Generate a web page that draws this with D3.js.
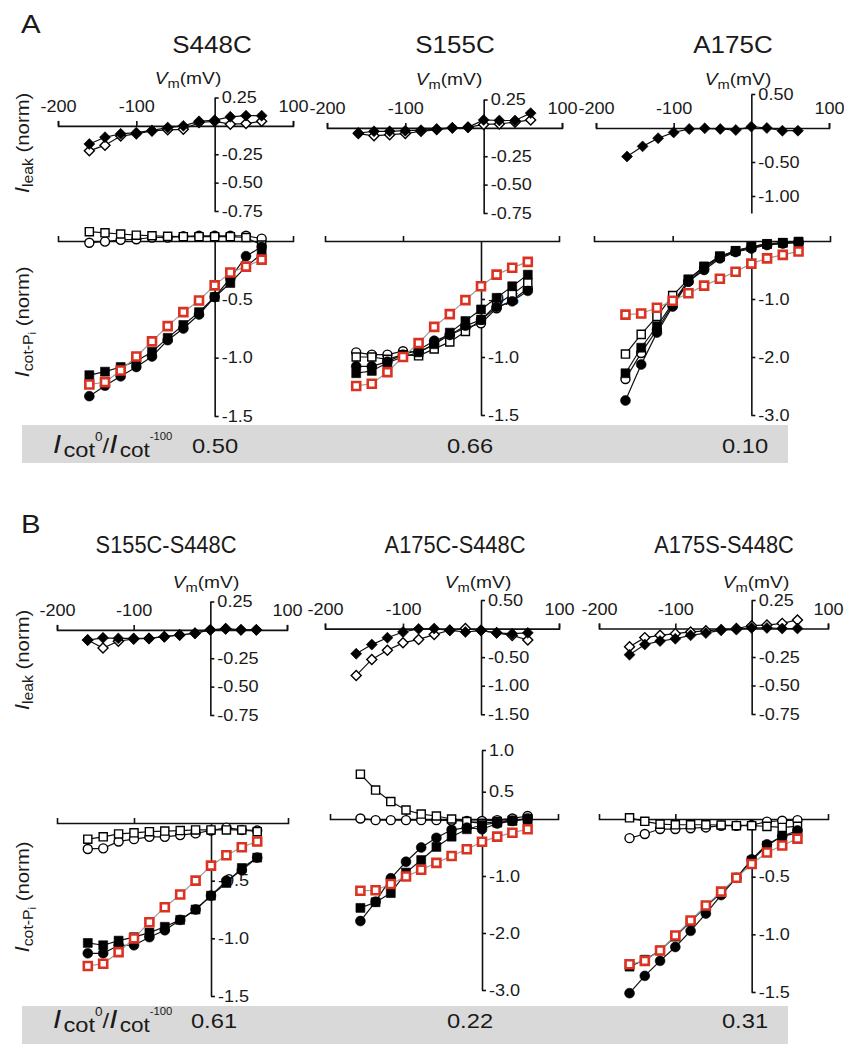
<!DOCTYPE html>
<html><head><meta charset="utf-8">
<script src="https://cdn.jsdelivr.net/npm/d3@7"></script>
<style>
body{margin:0;background:#fff}
svg{display:block}
text{font-family:"Liberation Sans",Arial,Helvetica,sans-serif;fill:#1a1a1a}
</style>
</head><body>
<svg id="c" width="844" height="1044"></svg>
<script>
// ---------------- DATA ----------------
const voltages = [-160,-140,-120,-100,-80,-60,-40,-20,0,20,40,60];
const xTickValues = [-200,-100,100];
const titlesA = ["S448C","S155C","A175C"];
const titlesB = ["S155C-S448C","A175C-S448C","A175S-S448C"];
const ratiosA = ["0.50","0.66","0.10"];
const ratiosB = ["0.61","0.22","0.31"];

// y tick values
const leakTicks_025 = [0.25,-0.25,-0.5,-0.75];
const leakTicks_050a = [0.5,-0.5,-1.0];
const leakTicks_050b = [0.5,-0.5,-1.0,-1.5];
const cotTicks_15 = [-0.5,-1.0,-1.5];
const cotTicks_30 = [-1.0,-2.0,-3.0];
const cotTicks_30p = [1.0,0.5,-1.0,-2.0,-3.0];

// S448C
const S448C_leakFilled = [-0.16,-0.10,-0.07,-0.06,-0.04,-0.015,0.0,0.04,0.05,0.08,0.09,0.09];
const S448C_leakOpen   = [-0.22,-0.17,-0.09,-0.07,-0.045,-0.035,-0.03,0.03,0.04,0.015,0.02,0.04];
const S448C_cotOpenCircle   = [-0.015,-0.005,0.01,0.015,0.03,0.03,0.04,0.045,0.045,0.045,0.045,0.02];
const S448C_cotOpenSquare   = [0.08,0.07,0.06,0.05,0.045,0.04,0.037,0.037,0.037,0.037,0.03,-0.035];
const S448C_cotFilledCircle = [-1.33,-1.24,-1.16,-1.08,-0.99,-0.85,-0.75,-0.63,-0.48,-0.32,-0.13,-0.05];
const S448C_cotFilledSquare = [-1.15,-1.12,-1.08,-1.03,-0.95,-0.83,-0.72,-0.61,-0.48,-0.36,-0.22,-0.11];
const S448C_cotRed          = [-1.23,-1.21,-1.11,-0.99,-0.86,-0.73,-0.61,-0.51,-0.38,-0.27,-0.22,-0.16];

// S155C
const S155C_leakFilled = [-0.045,-0.03,-0.03,-0.025,-0.02,-0.01,0,0.005,0.07,0.065,0.065,0.13];
const S155C_leakOpen   = [-0.05,-0.07,-0.06,-0.05,-0.03,-0.015,0,0.005,0.03,0.035,0.05,0.07];
const S155C_cotOpenCircle   = [-0.96,-0.98,-0.98,-0.95,-0.96,-0.89,-0.81,-0.75,-0.71,-0.58,-0.51,-0.41];
const S155C_cotOpenSquare   = [-1.0,-1.0,-1.02,-0.98,-0.99,-0.93,-0.87,-0.78,-0.68,-0.55,-0.46,-0.36];
const S155C_cotFilledCircle = [-1.08,-1.08,-1.04,-0.98,-0.94,-0.86,-0.81,-0.73,-0.68,-0.57,-0.52,-0.43];
const S155C_cotFilledSquare = [-1.14,-1.12,-1.05,-1.0,-0.96,-0.89,-0.79,-0.69,-0.59,-0.49,-0.39,-0.29];
const S155C_cotRed          = [-1.25,-1.23,-1.13,-1.0,-0.88,-0.74,-0.63,-0.51,-0.39,-0.29,-0.23,-0.18];

// A175C
const A175C_leakFilled = [-0.42,-0.27,-0.15,-0.065,-0.015,-0.005,-0.015,-0.03,0.02,0,-0.04,-0.04];
const A175C_cotOpenCircle   = [-2.38,-1.93,-1.53,-1.1,-0.7,-0.47,-0.28,-0.18,-0.11,-0.06,-0.04,-0.02];
const A175C_cotOpenSquare   = [-1.95,-1.61,-1.3,-0.94,-0.66,-0.44,-0.27,-0.17,-0.1,-0.05,-0.03,-0.02];
const A175C_cotFilledCircle = [-2.75,-2.13,-1.58,-1.13,-0.7,-0.5,-0.3,-0.19,-0.13,-0.07,-0.04,-0.03];
const A175C_cotFilledSquare = [-2.28,-1.84,-1.47,-1.07,-0.67,-0.44,-0.26,-0.17,-0.1,-0.05,-0.03,-0.01];
const A175C_cotRed          = [-1.27,-1.25,-1.15,-1.03,-0.9,-0.77,-0.65,-0.53,-0.39,-0.3,-0.24,-0.18];

// S155C-S448C
const S155C_S448C_leakFilled = [-0.09,-0.07,-0.075,-0.075,-0.075,-0.06,-0.045,-0.03,0,0.01,0,0];
const S155C_S448C_leakOpen   = [-0.09,-0.16,-0.10,-0.08,-0.075,-0.06,-0.045,-0.03,0,0.01,0,0];
const S155C_S448C_cotOpenCircle   = [-0.225,-0.22,-0.16,-0.14,-0.12,-0.12,-0.105,-0.09,-0.065,-0.04,-0.06,-0.065];
const S155C_S448C_cotOpenSquare   = [-0.14,-0.12,-0.095,-0.085,-0.075,-0.07,-0.066,-0.06,-0.06,-0.06,-0.06,-0.075];
const S155C_S448C_cotFilledCircle = [-1.13,-1.13,-1.06,-1.06,-0.99,-0.93,-0.84,-0.75,-0.63,-0.5,-0.41,-0.3];
const S155C_S448C_cotFilledSquare = [-1.04,-1.06,-1.02,-0.99,-0.95,-0.9,-0.84,-0.75,-0.63,-0.52,-0.39,-0.3];
const S155C_S448C_cotRed          = [-1.24,-1.22,-1.12,-1.0,-0.86,-0.73,-0.62,-0.5,-0.37,-0.28,-0.21,-0.16];

// A175C-S448C
const A175C_S448C_leakFilled = [-0.44,-0.28,-0.16,-0.06,-0.005,0,-0.03,-0.06,-0.035,-0.075,-0.09,-0.075];
const A175C_S448C_leakOpen   = [-0.82,-0.54,-0.38,-0.25,-0.19,-0.105,-0.03,0,-0.03,-0.075,-0.12,-0.2];
const A175C_S448C_cotOpenCircle   = [0.01,-0.02,-0.02,-0.02,-0.02,-0.02,-0.03,-0.035,-0.035,-0.02,0.01,0.055];
const A175C_S448C_cotOpenSquare   = [0.71,0.52,0.32,0.165,0.09,0.055,0,-0.045,-0.075,-0.045,-0.02,0];
const A175C_S448C_cotFilledCircle = [-1.79,-1.45,-1.04,-0.75,-0.5,-0.33,-0.19,-0.15,-0.18,-0.08,-0.035,0.01];
const A175C_S448C_cotFilledSquare = [-1.56,-1.46,-1.3,-0.94,-0.72,-0.49,-0.31,-0.18,-0.105,-0.065,-0.035,0];
const A175C_S448C_cotRed          = [-1.26,-1.25,-1.14,-1.01,-0.89,-0.77,-0.65,-0.53,-0.4,-0.31,-0.24,-0.18];

// A175S-S448C
const A175S_S448C_leakFilled = [-0.23,-0.14,-0.11,-0.09,-0.06,-0.04,-0.015,-0.01,0.005,0.005,0,0];
const A175S_S448C_leakOpen   = [-0.16,-0.08,-0.06,-0.045,-0.03,-0.02,-0.01,0,0.025,0.03,0.045,0.075];
const A175S_S448C_cotOpenCircle   = [-0.166,-0.13,-0.087,-0.087,-0.08,-0.073,-0.058,-0.058,-0.052,-0.023,-0.015,-0.01];
const A175S_S448C_cotOpenSquare   = [0.01,-0.02,-0.045,-0.05,-0.05,-0.05,-0.052,-0.058,-0.058,-0.064,-0.073,-0.064];
const A175S_S448C_cotFilledCircle = [-1.51,-1.36,-1.23,-1.11,-0.97,-0.82,-0.66,-0.51,-0.35,-0.22,-0.15,-0.1];
const A175S_S448C_cotFilledSquare = [-1.28,-1.22,-1.14,-1.02,-0.89,-0.76,-0.64,-0.51,-0.36,-0.23,-0.15,-0.12];
const A175S_S448C_cotRed          = [-1.26,-1.23,-1.14,-1.01,-0.88,-0.75,-0.63,-0.51,-0.39,-0.29,-0.23,-0.17];

// ---------------- LAYOUT / DRAWING ----------------
const SX = 1.13;
const RED = "#dc3222";
const svg = d3.select("#c");

function richText(parent, x, y, parts, opts) {
  opts = opts || {};
  const sx = opts.sx || SX;
  const t = parent.append("text")
    .attr("transform", `translate(${x},${y})` + (opts.rotate ? ` rotate(${opts.rotate})` : "") + ` scale(${sx},1)`)
    .attr("text-anchor", opts.anchor || "start");
  parts.forEach(p => {
    const s = t.append("tspan").text(p.t).attr("font-size", p.size);
    if (p.italic) s.attr("font-style", "italic");
    if (p.dy) s.attr("dy", p.dy);
    if (p.dx) s.attr("dx", p.dx);
  });
  return t;
}

function styleAxis(g, fmtSize) {
  g.attr("font-size", null).attr("font-family", null);
  g.select(".domain").attr("stroke", "#111").attr("stroke-width", 1.6);
  g.selectAll(".tick line").attr("stroke", "#111").attr("stroke-width", 1.6);
  g.selectAll(".tick text").attr("font-size", fmtSize).attr("fill", "#1a1a1a");
}

function series(g, xs, ys, vals, kind) {
  const pts = voltages.map((v, i) => [xs(v), ys(vals[i])]);
  const lineColor = kind === "red" ? "#9a9a9a" : "#111";
  g.append("path").attr("d", d3.line()(pts)).attr("fill", "none")
    .attr("stroke", lineColor).attr("stroke-width", 1.2);
  let sym, size, fill, stroke, sw, rot = "";
  if (kind === "fc") { sym = d3.symbolCircle; size = 76; fill = "#000"; stroke = "#000"; sw = 0.6; }
  else if (kind === "oc") { sym = d3.symbolCircle; size = 64; fill = "#fff"; stroke = "#000"; sw = 1.4; }
  else if (kind === "fs") { sym = d3.symbolSquare; size = 80; fill = "#000"; stroke = "#000"; sw = 0.6; }
  else if (kind === "os") { sym = d3.symbolSquare; size = 66; fill = "#fff"; stroke = "#000"; sw = 1.4; }
  else if (kind === "red") { sym = d3.symbolSquare; size = 64; fill = "#fff"; stroke = RED; sw = 2.6; }
  else if (kind === "fd") { sym = d3.symbolSquare; size = 60; fill = "#000"; stroke = "#000"; sw = 0.6; rot = " rotate(45)"; }
  else if (kind === "od") { sym = d3.symbolSquare; size = 50; fill = "#fff"; stroke = "#000"; sw = 1.4; rot = " rotate(45)"; }
  g.selectAll(null).data(pts).enter().append("path")
    .attr("transform", d => `translate(${d[0]},${d[1]})${rot}`)
    .attr("d", d3.symbol().type(sym).size(size))
    .attr("fill", fill).attr("stroke", stroke).attr("stroke-width", sw);
}

const panels = [
  { title: titlesA[0], ratio: ratiosA[0], tsx: SX,
    leak: { filled: S448C_leakFilled, open: S448C_leakOpen, domain: [-0.75, 0.25], ticks: leakTicks_025 },
    cot: { oc: S448C_cotOpenCircle, os: S448C_cotOpenSquare, fc: S448C_cotFilledCircle, fs: S448C_cotFilledSquare, red: S448C_cotRed, domain: [-1.5, 0], ticks: cotTicks_15 },
    L: { title: [212, 53], vm: [188, 84], leakX: [58, 293], leakY: [211, 97.5], cotX: [58, 293], cotY: [416, 241], ratio: [215, 453] } },
  { title: titlesA[1], ratio: ratiosA[1], tsx: SX,
    leak: { filled: S155C_leakFilled, open: S155C_leakOpen, domain: [-0.75, 0.25], ticks: leakTicks_025 },
    cot: { oc: S155C_cotOpenCircle, os: S155C_cotOpenSquare, fc: S155C_cotFilledCircle, fs: S155C_cotFilledSquare, red: S155C_cotRed, domain: [-1.5, 0], ticks: cotTicks_15 },
    L: { title: [455, 53], vm: [449, 85], leakX: [327, 562], leakY: [213, 99.5], cotX: [325, 559], cotY: [415, 241], ratio: [470, 453] } },
  { title: titlesA[2], ratio: ratiosA[2], tsx: SX,
    leak: { filled: A175C_leakFilled, open: null, domain: [-1.25, 0.5], ticks: leakTicks_050a },
    cot: { oc: A175C_cotOpenCircle, os: A175C_cotOpenSquare, fc: A175C_cotFilledCircle, fs: A175C_cotFilledSquare, red: A175C_cotRed, domain: [-3, 0], ticks: cotTicks_30 },
    L: { title: [733, 53], vm: [738, 85], leakX: [596, 829], leakY: [213, 94], cotX: [594, 830], cotY: [415, 241], ratio: [745, 453] } },
  { title: titlesB[0], ratio: ratiosB[0], tsx: 0.95,
    leak: { filled: S155C_S448C_leakFilled, open: S155C_S448C_leakOpen, domain: [-0.75, 0.25], ticks: leakTicks_025 },
    cot: { oc: S155C_S448C_cotOpenCircle, os: S155C_S448C_cotOpenSquare, fc: S155C_S448C_cotFilledCircle, fs: S155C_S448C_cotFilledSquare, red: S155C_S448C_cotRed, domain: [-1.5, 0], ticks: cotTicks_15 },
    L: { title: [166, 553], vm: [206, 588], leakX: [57, 287], leakY: [715, 601.5], cotX: [57, 288], cotY: [996, 823], ratio: [214, 1028] } },
  { title: titlesB[1], ratio: ratiosB[1], tsx: 0.95,
    leak: { filled: A175C_S448C_leakFilled, open: A175C_S448C_leakOpen, domain: [-1.5, 0.5], ticks: leakTicks_050b },
    cot: { oc: A175C_S448C_cotOpenCircle, os: A175C_S448C_cotOpenSquare, fc: A175C_S448C_cotFilledCircle, fs: A175C_S448C_cotFilledSquare, red: A175C_S448C_cotRed, domain: [-3, 0, 0.5, 1], ticks: cotTicks_30p },
    L: { title: [455, 553], vm: [478, 588], leakX: [325, 559], leakY: [714.3, 600], cotX: [330, 558], cotY: [990, 819, 791.7, 750], ratio: [470, 1028] } },
  { title: titlesB[2], ratio: ratiosB[2], tsx: 0.95,
    leak: { filled: A175S_S448C_leakFilled, open: A175S_S448C_leakOpen, domain: [-0.75, 0.25], ticks: leakTicks_025 },
    cot: { oc: A175S_S448C_cotOpenCircle, os: A175S_S448C_cotOpenSquare, fc: A175S_S448C_cotFilledCircle, fs: A175S_S448C_cotFilledSquare, red: A175S_S448C_cotRed, domain: [-1.5, 0], ticks: cotTicks_15 },
    L: { title: [724, 553], vm: [756, 588], leakX: [599, 828], leakY: [714, 600], cotX: [599, 828], cotY: [992, 819], ratio: [745, 1028] } }
];

// gray bars
svg.append("rect").attr("x", 22).attr("y", 425).attr("width", 766).attr("height", 38).attr("fill", "#d9d9d9");
svg.append("rect").attr("x", 22).attr("y", 1006).attr("width", 766).attr("height", 38).attr("fill", "#d9d9d9");

// panel letters
richText(svg, 21, 33, [{ t: "A", size: 26 }]);
richText(svg, 21, 533, [{ t: "B", size: 26 }]);

// y-axis labels
function leakLabel(cy) {
  richText(svg, 29, cy, [{ t: "I", size: 20, italic: true }, { t: "leak", size: 14, dy: 4 }, { t: " (norm)", size: 18, dy: -4 }], { anchor: "middle", rotate: -90 });
}
function cotLabel(cy) {
  richText(svg, 29, cy, [{ t: "I", size: 20, italic: true }, { t: "cot-P", size: 14, dy: 4 }, { t: "i", size: 10, dy: 3 }, { t: " (norm)", size: 18, dy: -7 }], { anchor: "middle", rotate: -90 });
}
leakLabel(143); cotLabel(322); leakLabel(660); cotLabel(897);

// ratio labels
function ratioLabel(y) {
  richText(svg, 53, y, [
    { t: "I", size: 26, italic: true },
    { t: "cot", size: 21, dy: 4, dx: 2 },
    { t: "0", size: 12, dy: -16 },
    { t: "/", size: 21, dy: 12 },
    { t: "I", size: 26, italic: true },
    { t: "cot", size: 20, dy: 4, dx: 2 },
    { t: "-100", size: 10, dy: -17 }
  ]);
}
ratioLabel(453); ratioLabel(1028);

panels.forEach(p => {
  const L = p.L;
  richText(svg, L.title[0], L.title[1], [{ t: p.title, size: 23 }], { anchor: "middle", sx: p.tsx });
  richText(svg, L.vm[0], L.vm[1], [{ t: "V", size: 17, italic: true }, { t: "m", size: 13, dy: 4 }, { t: "(mV)", size: 17, dy: -4 }], { anchor: "middle" });
  richText(svg, L.ratio[0], L.ratio[1], [{ t: p.ratio, size: 21 }], { anchor: "middle" });

  // ---- leak plot
  const xl = d3.scaleLinear().domain([-200, 100]).range(L.leakX);
  const yl = d3.scaleLinear().domain(p.leak.domain).range(L.leakY);
  const gx = svg.append("g").attr("transform", `translate(0,${yl(0)})`)
    .call(d3.axisTop(xl).tickValues(xTickValues).tickSize(5).tickSizeOuter(5).tickPadding(9).tickFormat(d => String(d)));
  styleAxis(gx, 16);
  gx.selectAll(".tick text").attr("transform", `scale(${SX},1)`);
  const gy = svg.append("g").attr("transform", `translate(${xl(0)},0)`)
    .call(d3.axisRight(yl).tickValues(p.leak.ticks).tickSize(4).tickSizeOuter(0).tickPadding(3).tickFormat(d => d.toFixed(2)));
  styleAxis(gy, 16);
  gy.selectAll(".tick text").attr("transform", `scale(${SX},1)`).attr("x", 7 / SX);
  const gl = svg.append("g");
  if (p.leak.open) series(gl, xl, yl, p.leak.open, "od");
  series(gl, xl, yl, p.leak.filled, "fd");

  // ---- cot plot
  const xc = d3.scaleLinear().domain([-200, 100]).range(L.cotX);
  const yc = d3.scaleLinear().domain(p.cot.domain).range(L.cotY);
  const cx = svg.append("g").attr("transform", `translate(0,${yc(0)})`)
    .call(d3.axisTop(xc).tickValues([-100]).tickSize(5).tickSizeOuter(5).tickFormat(""));
  styleAxis(cx, 16);
  const cyA = svg.append("g").attr("transform", `translate(${xc(0)},0)`)
    .call(d3.axisRight(yc).tickValues(p.cot.ticks).tickSize(4).tickSizeOuter(0).tickPadding(3).tickFormat(d => d.toFixed(1)));
  styleAxis(cyA, 16);
  cyA.selectAll(".tick text").attr("transform", `scale(${SX},1)`).attr("x", 7 / SX);
  const gc = svg.append("g");
  series(gc, xc, yc, p.cot.oc, "oc");
  series(gc, xc, yc, p.cot.os, "os");
  series(gc, xc, yc, p.cot.fc, "fc");
  series(gc, xc, yc, p.cot.fs, "fs");
  series(gc, xc, yc, p.cot.red, "red");
});
</script>
</body></html>
